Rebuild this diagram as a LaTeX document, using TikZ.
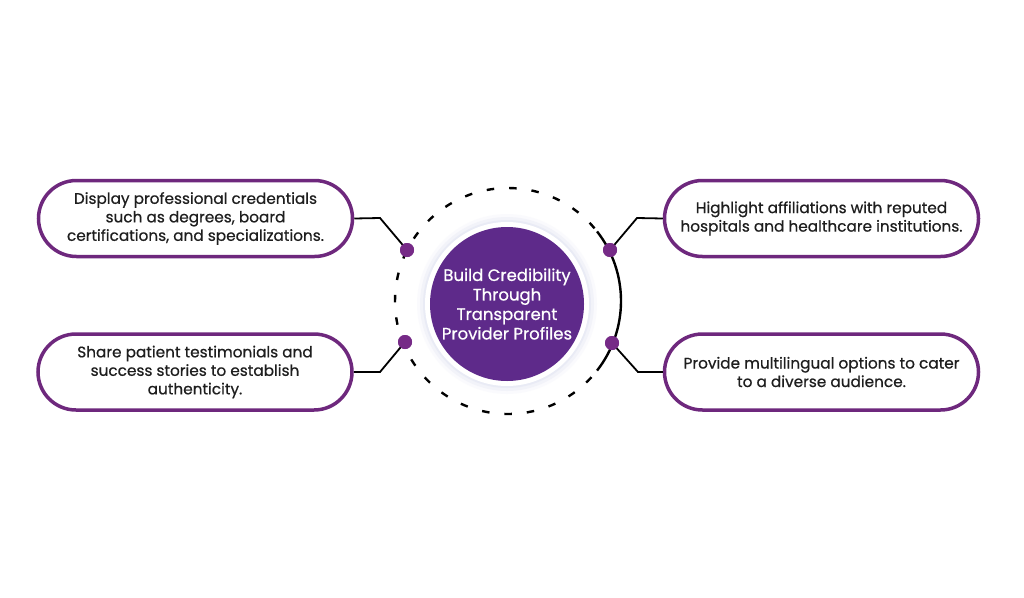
\documentclass[tikz,border=0pt]{standalone}
\usepackage{fontspec}
\setmainfont{Poppins}[FakeBold=0.6]
\definecolor{boxpurple}{RGB}{110,40,125}
\definecolor{dotpurple}{RGB}{118,42,135}
\definecolor{corepurple}{RGB}{94,42,138}
\definecolor{txt}{RGB}{30,30,30}
\definecolor{glow}{RGB}{225,228,242}
\tikzset{
  infobox/.style={draw=boxpurple, line width=3.5pt, rounded corners=38pt, fill=white,
    minimum width=314pt, minimum height=76pt, align=center, text=txt,
    font=\fontsize{15.3}{18.5}\selectfont, inner sep=0pt},
  dotnode/.style={circle, fill=dotpurple, minimum size=14pt, inner sep=0pt},
  link/.style={line width=1.8pt, black},
  ring/.style={line width=2.4pt, black},
}
\begin{document}
\begin{tikzpicture}[x=1pt,y=-1pt]
\useasboundingbox (0,0) rectangle (1024,597);
\fill[white] (0,0) rectangle (1024,597);
% outer ring
\coordinate (c) at (508,301);
\draw[ring, dash pattern=on 7.5pt off 15pt] ([shift={(-40:113)}]c) arc[start angle=-40, end angle=-320, radius=113];
\draw[ring] ([shift={(38:113)}]c) arc[start angle=38, end angle=-38, radius=113];
% glow and core
\foreach \r/\o in {90/0.15,87/0.3,84/0.5}{\fill[glow, opacity=\o] (507,304) circle[radius=\r];}
\fill[white] (507,304) circle[radius=82];
\node[circle, fill=corepurple, minimum size=154pt, inner sep=0pt, text=white, align=center,
  font=\fontsize{16.5}{19.5}\selectfont] (core) at (507,304)
  {Build Credibility\\Through\\Transparent\\Provider Profiles};
% boxes
\node[infobox] (b1) at (195.5,218.5) {Display professional credentials\\such as degrees, board\\certifications, and specializations.};
\node[infobox] (b2) at (821.5,218.5) {Highlight affiliations with reputed\\hospitals and healthcare institutions.};
\node[infobox] (b3) at (195,372) {Share patient testimonials and\\success stories to establish\\authenticity.};
\node[infobox] (b4) at (821.5,372) {Provide multilingual options to cater\\to a diverse audience.};
% corners
\coordinate (k1) at (380,218);
\coordinate (k2) at (637,218);
\coordinate (k3) at (380,372);
\coordinate (k4) at (638,372);
% dots
\node[dotnode] (d1) at (407,250) {};
\node[dotnode] (d2) at (610,250) {};
\node[dotnode] (d3) at (405,342) {};
\node[dotnode] (d4) at (612,343) {};
% links
\draw[link] (b1.east) -- (k1) -- (d1.center);
\draw[link] (b2.west) -- (k2) -- (d2.center);
\draw[link] (b3.east) -- (k3) -- (d3.center);
\draw[link] (b4.west) -- (k4) -- (d4.center);
\foreach \d in {d1,d2,d3,d4}{\node[dotnode] at (\d) {};}
\end{tikzpicture}
\end{document}
